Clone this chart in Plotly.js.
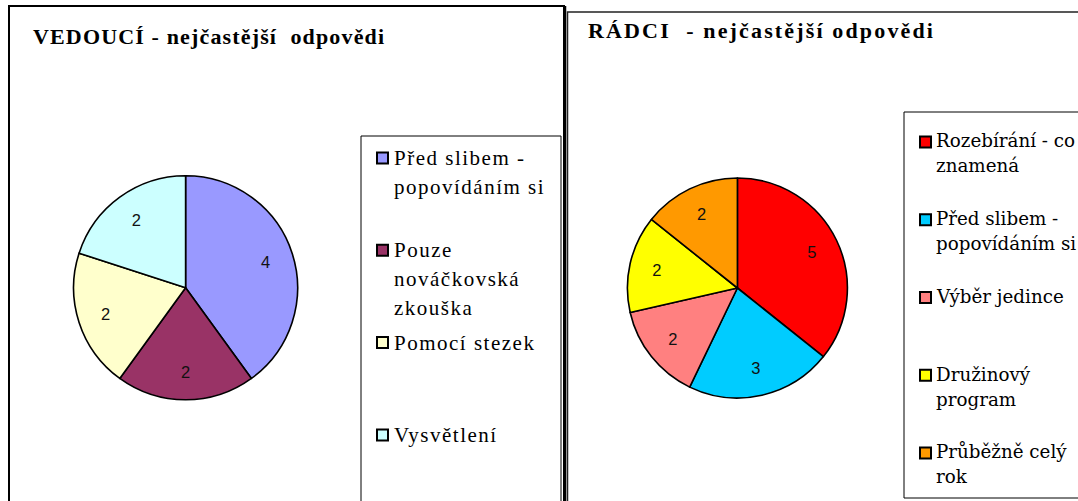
<!DOCTYPE html>
<html><head><meta charset="utf-8">
<script src="https://cdn.plot.ly/plotly-3.0.1.min.js"></script>
<style>html,body{margin:0;padding:0;background:#fff;overflow:hidden}#chart{width:1078px;height:501px}</style>
</head><body><div id="chart"></div>
<script>
// ---- data ----
const leaderTitle = "VEDOUCÍ - nejčastější  odpovědi";
const leaderLabels = ["Před slibem - popovídáním si", "Pouze nováčkovská zkouška", "Pomocí stezek", "Vysvětlení"];
const leaderValues = [4, 2, 2, 2];
const leaderColors = ["#9999FF", "#993366", "#FFFFCC", "#CCFFFF"];
const leaderLegendLines = [["Před slibem -", "popovídáním si"], ["Pouze", "nováčkovská", "zkouška"], ["Pomocí stezek"], ["Vysvětlení"]];

const patrolTitle = "RÁDCI  - nejčastější odpovědi";
const patrolLabels = ["Rozebírání - co znamená", "Před slibem - popovídáním si", "Výběr jedince", "Družinový program", "Průběžně celý rok"];
const patrolValues = [5, 3, 2, 2, 2];
const patrolColors = ["#FF0000", "#00CCFF", "#FF8080", "#FFFF00", "#FF9900"];
const patrolLegendLines = [["Rozebírání - co", "znamená"], ["Před slibem -", "popovídáním si"], ["Výběr jedince"], ["Družinový", "program"], ["Průběžně celý", "rok"]];

// ---- layout helpers ----
const W = 1078, H = 501;
const px = x => x / W;
const py = y => 1 - y / H;

function pieTraces(labels, values, colors, cx, cy, r) {
  const dom = { x: [px(cx - r), px(cx + r)], y: [py(cy + r), py(cy - r)] };
  return [
    { type: 'pie', labels: labels, values: values, sort: false, direction: 'clockwise', rotation: 0,
      marker: { colors: colors, line: { color: '#000', width: 1.6 } },
      textinfo: 'none', hoverinfo: 'label+value', domain: dom, showlegend: false },
    { type: 'pie', labels: labels, values: values, sort: false, direction: 'clockwise', rotation: 0,
      hole: 0.5,
      marker: { colors: values.map(() => 'rgba(0,0,0,0)'), line: { width: 0 } },
      textinfo: 'value', textposition: 'inside', insidetextorientation: 'horizontal',
      textfont: { family: 'Liberation Sans, Arial, sans-serif', size: 16.5, color: '#111' },
      hoverinfo: 'skip', domain: dom, showlegend: false }
  ];
}

const shapes = [];
const annotations = [];

function rect(x0, y0, x1, y1, color, width, fill) {
  shapes.push({ type: 'rect', xref: 'paper', yref: 'paper', x0: px(x0), x1: px(x1), y0: py(y1), y1: py(y0),
    line: { color: color, width: width }, fillcolor: fill || 'rgba(0,0,0,0)', layer: 'above' });
}
function line(x0, y0, x1, y1, color, width) {
  shapes.push({ type: 'line', xref: 'paper', yref: 'paper', x0: px(x0), x1: px(x1), y0: py(y0), y1: py(y1),
    line: { color: color, width: width }, layer: 'above' });
}
function text(t, x, cy, font, spacing) {
  annotations.push({ xref: 'paper', yref: 'paper', x: px(x), y: py(cy), xanchor: 'left', yanchor: 'middle',
    showarrow: false, borderpad: 0,
    text: '<span style="letter-spacing:' + spacing + 'px">' + t.replace(/  /g, ' \u00a0') + '</span>', font: font });
}

// frames
rect(9, 6, 564, 520, '#000', 2);
line(565, 6, 565, 520, '#000', 2.5);
rect(567.5, 12, 1100, 520, '#222', 1.5);
// legend boxes
rect(361, 136, 561, 530, '#000', 1);
rect(904, 112, 1100, 498, '#000', 1);

// titles
const titleFont = { family: 'Liberation Serif', size: 22, color: '#000', weight: 700 };
text(leaderTitle, 32, 36, titleFont, 1.15);
text(patrolTitle, 587, 31, titleFont, 2.15);

// legends
function legend(lines, colors, base0, slot, lineH, xSw, sw, xText, font, spacing, swOff, txtOff) {
  lines.forEach((ls, i) => {
    const b = base0 + i * slot;
    rect(xSw, b - swOff - sw / 2, xSw + sw, b - swOff + sw / 2, '#000', 2, colors[i]);
    ls.forEach((t, j) => text(t, xText, b + j * lineH - txtOff, font, spacing));
  });
}
legend(leaderLegendLines, leaderColors, 165, 92.3, 28.8, 377, 11, 393,
  { family: 'Liberation Serif', size: 21, color: '#000' }, 1.5, 7, 7.1);
legend(patrolLegendLines, patrolColors, 147, 77.75, 25, 920, 11, 935,
  { family: 'DejaVu Serif', size: 18.3, color: '#000' }, 0, 5, 6.2);

const data = [].concat(
  pieTraces(leaderLabels, leaderValues, leaderColors, 185.6, 287.8, 112),
  pieTraces(patrolLabels, patrolValues, patrolColors, 737.4, 288, 110)
);

const layout = {
  width: W, height: H, margin: { l: 0, r: 0, t: 0, b: 0 },
  paper_bgcolor: '#fff', plot_bgcolor: '#fff', showlegend: false,
  shapes: shapes, annotations: annotations
};
Plotly.newPlot('chart', data, layout, { displayModeBar: false, staticPlot: true });
</script>
</body></html>
